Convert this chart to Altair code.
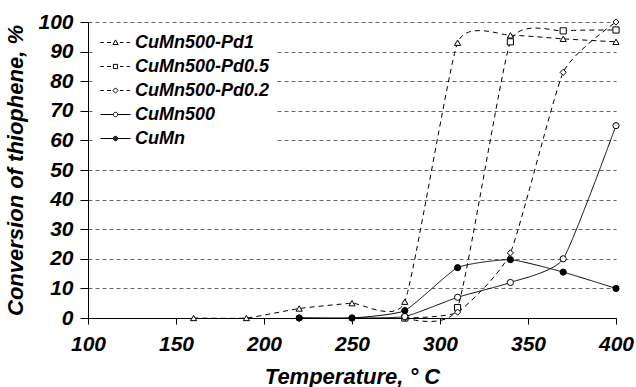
import altair as alt
import pandas as pd

series = ["CuMn500-Pd1", "CuMn500-Pd0.5", "CuMn500-Pd0.2", "CuMn500", "CuMn"]

t_pd1 = [160, 190, 220, 250, 280, 310, 340, 370, 400]
v_pd1 = [0, 0, 3.2, 5, 5.5, 93, 95.5, 94.3, 93.3]

t_pd05 = [280, 310, 340, 370, 400]
v_pd05 = [0, 3.5, 93.3, 97, 97.3]

t_pd02 = [280, 310, 340, 370, 400]
v_pd02 = [0, 2, 22, 83, 100]

t_cumn500 = [220, 250, 280, 310, 340, 370, 400]
v_cumn500 = [0, 0, 0.5, 7, 12, 20, 65]

t_cumn = [220, 250, 280, 310, 340, 370, 400]
v_cumn = [0, 0, 2.5, 17, 19.7, 15.5, 10]

x_ticks = [100, 150, 200, 250, 300, 350, 400]
y_ticks = [0, 10, 20, 30, 40, 50, 60, 70, 80, 90, 100]

rows = []
for name, ts, vs in [
    (series[0], t_pd1, v_pd1),
    (series[1], t_pd05, v_pd05),
    (series[2], t_pd02, v_pd02),
    (series[3], t_cumn500, v_cumn500),
    (series[4], t_cumn, v_cumn),
]:
    for t, v in zip(ts, vs):
        rows.append({"series": name, "T": t, "conv": v})
df = pd.DataFrame(rows)

FONT = "Liberation Sans"

# legend symbols (path units: 1 unit = sqrt(symbolSize)/2 px)
dash = "M-1.28,0H-1.0M-0.72,0H-0.38M0.38,0H0.67M0.95,0H1.23"
solid = "M-1.28,0H-0.2M0.2,0H1.28"
tri = "M0,-0.22L0.22,0.17L-0.22,0.17Z"
sq = "M-0.18,-0.18H0.18V0.18H-0.18Z"
dia = "M0,-0.22L0.22,0L0,0.22L-0.22,0Z"
def ring(r):
    return f"M{r},0A{r},{r} 0 1,1 -{r},0A{r},{r} 0 1,1 {r},0"
circ = ring(0.19)
dot = ring(0.19) + ring(0.14) + ring(0.09) + ring(0.04)
legend_paths = [dash + tri, dash + sq, dash + dia, solid + circ, solid + dot]

x_scale = alt.Scale(domain=[100, 400], nice=False)
y_scale = alt.Scale(domain=[0, 100], nice=False)
x_axis = alt.Axis(values=x_ticks, title="Temperature, ° C", grid=False, format="d",
                  labelFlush=False, labelOverlap=False)
y_axis = alt.Axis(values=y_ticks, title="Conversion of thiophene, %", grid=True,
                  format="d", labelOverlap=False, tickCount=11)

def X():
    return alt.X("T:Q", scale=x_scale, axis=x_axis)

def Y():
    return alt.Y("conv:Q", scale=y_scale, axis=y_axis)

base = alt.Chart(df)

lines = base.mark_line(interpolate="cardinal", tension=0.5, color="black",
                       strokeWidth=1).encode(
    x=X(), y=Y(),
    detail="series:N",
    strokeDash=alt.StrokeDash("series:N",
                              scale=alt.Scale(domain=series,
                                              range=[[5, 4], [5, 4], [5, 4], [1, 0], [1, 0]]),
                              legend=None),
)

points = base.mark_point(filled=True, stroke="black", strokeWidth=1, size=38, opacity=1).encode(
    x=X(), y=Y(),
    shape=alt.Shape("series:N",
                    scale=alt.Scale(domain=series,
                                    range=["triangle-up", "square", "diamond", "circle", "circle"]),
                    legend=None),
    fill=alt.Fill("series:N",
                  scale=alt.Scale(domain=series,
                                  range=["white", "white", "white", "white", "black"]),
                  legend=None),
)

legend_layer = base.transform_filter("false").mark_point(
    filled=False, color="black", stroke="black", strokeWidth=1, opacity=1
).encode(
    x=X(), y=Y(),
    shape=alt.Shape("series:N",
                    scale=alt.Scale(domain=series, range=legend_paths),
                    legend=alt.Legend(title=None, orient="none", legendX=7, legendY=3,
                                      symbolSize=552, symbolStrokeWidth=1,
                                      symbolStrokeColor="black",
                                      labelFont=FONT, labelFontSize=18,
                                      labelFontWeight="bold", labelFontStyle="italic",
                                      labelColor="black", labelOffset=7, labelLimit=400,
                                      rowPadding=2, padding=5, fillColor="white",
                                      symbolOffset=3)),
)

chart = alt.layer(lines, points, legend_layer).resolve_scale(
    shape="independent"
).properties(
    width=528, height=296,
    autosize=alt.AutoSizeParams(type="none"),
    padding={"left": 88, "top": 22, "right": 20, "bottom": 69},
    background="white",
).configure_view(stroke=None).configure_axis(
    labelFont=FONT, labelFontSize=21, labelFontWeight="bold", labelFontStyle="italic",
    labelColor="black",
    titleFont=FONT, titleFontSize=22, titleFontWeight="bold", titleFontStyle="italic",
    titleColor="black",
    domainColor="black", domainWidth=1, tickColor="black", tickWidth=1,
    gridColor="#666666", gridDash=[4, 3], gridWidth=1,
).configure_axisX(
    labelPadding=9, titlePadding=12, tickSize=6,
).configure_axisY(
    labelPadding=7, titlePadding=10, tickSize=8,
)

chart.save("out.html", embed_options={"renderer": "svg", "actions": False})
